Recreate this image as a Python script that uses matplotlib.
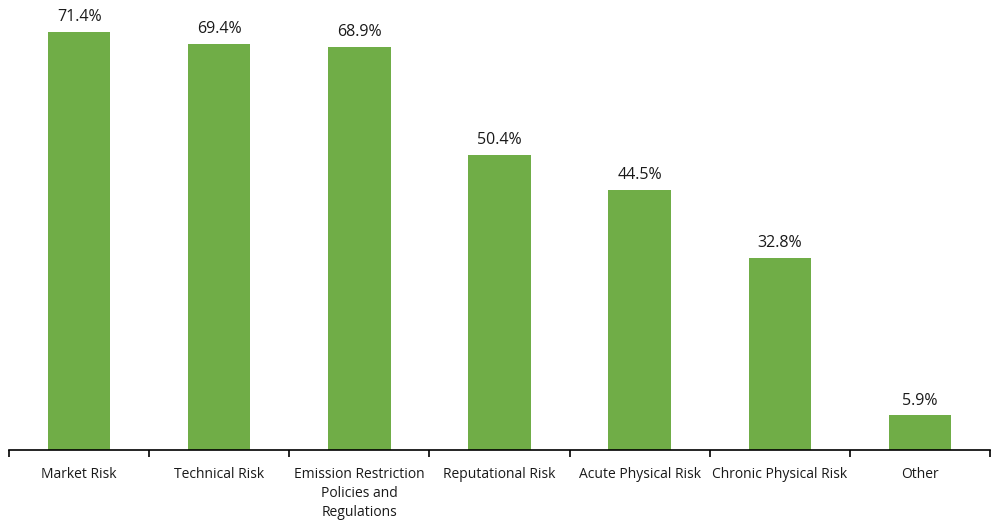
import numpy as np
import matplotlib
matplotlib.use('Agg')
import matplotlib.pyplot as plt

categories = ["Market Risk", "Technical Risk", "Emission Restriction\nPolicies and\nRegulations",
              "Reputational Risk", "Acute Physical Risk", "Chronic Physical Risk", "Other"]
values = [71.4, 69.4, 68.9, 50.4, 44.5, 32.8, 5.9]
labels = ["71.4%", "69.4%", "68.9%", "50.4%", "44.5%", "32.8%", "5.9%"]

plt.rcParams['font.family'] = ['Open Sans', 'DejaVu Sans']

fig = plt.figure(figsize=(9.91, 5.2), dpi=100)
ax = fig.add_axes([9/991, 70/520, 981/991, 450/520])

x = np.arange(len(categories))
bars = ax.bar(x, values, width=0.445, color="#70AD47")

for b, lab in zip(bars, labels):
    ax.annotate(lab, (b.get_x() + b.get_width()/2, b.get_height()),
                xytext=(0, 5), textcoords="offset points",
                ha="center", va="bottom", fontsize=11.5, color="#1a1a1a")

ax.set_xlim(-0.5, len(categories) - 0.5)
ax.set_ylim(0, 76.9)
ax.set_xticks(x)
ax.set_xticklabels(categories, fontsize=10, color="#1a1a1a", linespacing=1.4)
ax.tick_params(axis="x", which="major", length=0, pad=12)
ax.set_xticks(np.arange(-0.5, len(categories)), minor=True)
ax.tick_params(axis="x", which="minor", length=5, width=1.2, color="black")
ax.set_yticks([])
for s in ["top", "right", "left"]:
    ax.spines[s].set_visible(False)
ax.spines["bottom"].set_linewidth(1.2)

fig.savefig("out.png", dpi=100)
